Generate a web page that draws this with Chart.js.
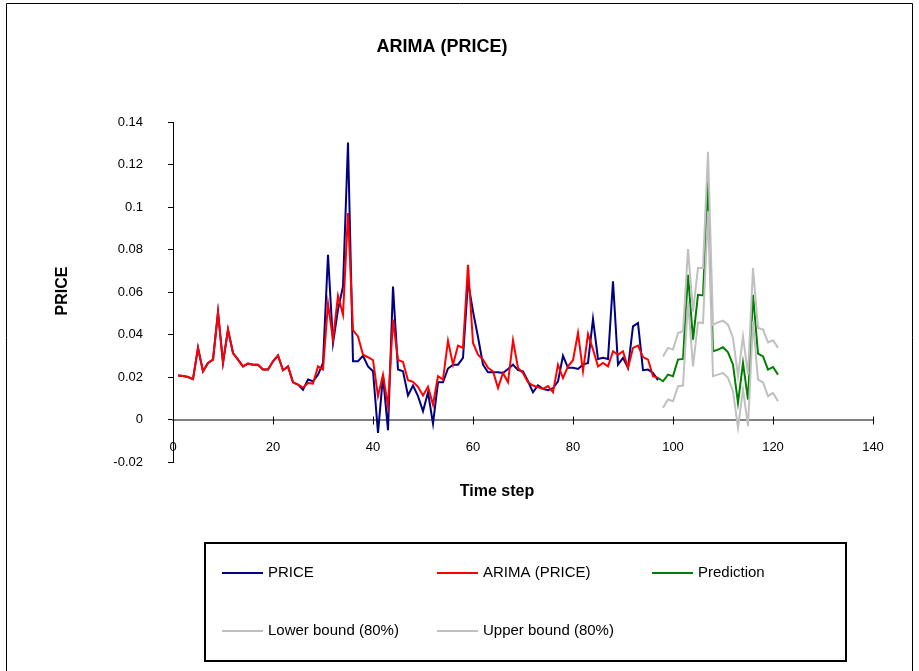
<!DOCTYPE html>
<html lang="en">
<head>
<meta charset="utf-8">
<title>ARIMA (PRICE)</title>
<script src="https://cdn.jsdelivr.net/npm/chart.js@4.4.1/dist/chart.umd.min.js"></script>
<style>
  html, body { margin: 0; padding: 0; background: #fff; }
  canvas { display: block; }
</style>
</head>
<body>
<canvas id="chart" width="919" height="671"></canvas>
<script>
  // observed series and fitted ARIMA values, time steps 1..97
  const priceValues = [
    0.0207, 0.0205, 0.0200, 0.0190, 0.0337, 0.0227, 0.0266, 0.0282, 0.0504, 0.0267,
    0.0423, 0.0313, 0.0282, 0.0250, 0.0263, 0.0258, 0.0258, 0.0235, 0.0235, 0.0274,
    0.0301, 0.0232, 0.0250, 0.0175, 0.0164, 0.0140, 0.0188, 0.0180, 0.0211, 0.0266,
    0.0775, 0.0360, 0.0517, 0.0626, 0.1303, 0.0274, 0.0274, 0.0300, 0.0250, 0.0227,
    -0.0063, 0.0204, -0.0050, 0.0626, 0.0235, 0.0227, 0.0113, 0.0160, 0.0110, 0.0039,
    0.0128, -0.0019, 0.0175, 0.0175, 0.0240, 0.0258, 0.0258, 0.0290, 0.0650, 0.0509,
    0.0388, 0.0258, 0.0222, 0.0222, 0.0222, 0.0219, 0.0238, 0.0258, 0.0232, 0.0227,
    0.0180, 0.0128, 0.0161, 0.0144, 0.0138, 0.0147, 0.0180, 0.0300, 0.0243, 0.0243,
    0.0238, 0.0258, 0.0266, 0.0473, 0.0285, 0.0290, 0.0285, 0.0650, 0.0258, 0.0290,
    0.0243, 0.0438, 0.0454, 0.0232, 0.0235, 0.0219, 0.0185
  ];
  const arimaValues = [
    0.0207, 0.0205, 0.0200, 0.0190, 0.0337, 0.0227, 0.0266, 0.0282, 0.0504, 0.0267,
    0.0423, 0.0313, 0.0282, 0.0250, 0.0263, 0.0258, 0.0258, 0.0235, 0.0235, 0.0274,
    0.0301, 0.0232, 0.0250, 0.0175, 0.0164, 0.0150, 0.0172, 0.0169, 0.0250, 0.0235,
    0.0545, 0.0376, 0.0583, 0.0493, 0.0971, 0.0420, 0.0391, 0.0305, 0.0293, 0.0279,
    0.0110, 0.0211, 0.0063, 0.0470, 0.0280, 0.0271, 0.0185, 0.0177, 0.0154, 0.0113,
    0.0154, 0.0070, 0.0204, 0.0188, 0.0371, 0.0258, 0.0348, 0.0337, 0.0728, 0.0360,
    0.0305, 0.0282, 0.0243, 0.0227, 0.0149, 0.0219, 0.0175, 0.0373, 0.0243, 0.0219,
    0.0175, 0.0160, 0.0152, 0.0144, 0.0157, 0.0128, 0.0258, 0.0195, 0.0250, 0.0279,
    0.0407, 0.0227, 0.0402, 0.0329, 0.0250, 0.0266, 0.0250, 0.0321, 0.0305, 0.0321,
    0.0243, 0.0337, 0.0348, 0.0294, 0.0282, 0.0204, 0.0196
  ];

  // forecast
  const predictionSteps = [97, 98, 99, 100, 101, 102, 103, 104, 105, 106, 107, 108, 109,
    110, 111, 112, 113, 114, 115, 116, 117, 118, 119, 120, 121];
  const predictionValues = [0.0196, 0.0180, 0.0211, 0.0204, 0.0282, 0.0285, 0.0681, 0.0376,
    0.0587, 0.0584, 0.1120, 0.0321, 0.0329, 0.0340, 0.0316, 0.0258, 0.0078, 0.0266,
    0.0094, 0.0587, 0.0310, 0.0297, 0.0235, 0.0247, 0.0211];
  const boundSteps = [98, 99, 100, 101, 102, 103, 104, 105, 106, 107, 108, 109,
    110, 111, 112, 113, 114, 115, 116, 117, 118, 119, 120, 121];
  const lowerValues = [0.0055, 0.0094, 0.0086, 0.0157, 0.0160, 0.0556, 0.0250, 0.0457,
    0.0454, 0.0980, 0.0204, 0.0211, 0.0219, 0.0196, 0.0133, -0.0039, 0.0141, -0.0031,
    0.0462, 0.0188, 0.0175, 0.0110, 0.0125, 0.0086];
  const upperValues = [0.0297, 0.0337, 0.0329, 0.0407, 0.0415, 0.0802, 0.0509, 0.0713,
    0.0713, 0.1260, 0.0446, 0.0457, 0.0465, 0.0446, 0.0384, 0.0204, 0.0391, 0.0211,
    0.0713, 0.0431, 0.0423, 0.0363, 0.0373, 0.0337];

  const xTickValues = [0, 20, 40, 60, 80, 100, 120, 140];
  const yTickValues = [-0.02, 0, 0.02, 0.04, 0.06, 0.08, 0.1, 0.12, 0.14];

  const chartTitle = 'ARIMA (PRICE)';
  const xTitle = 'Time step';
  const yTitle = 'PRICE';

  const FONT = "'Liberation Sans', Arial, sans-serif";
  Chart.defaults.font.family = FONT;
  Chart.defaults.color = '#000';

  const fittedPoints = vals => vals.map((v, i) => ({ x: i + 1, y: v }));
  const pairPoints = (xs, ys) => xs.map((t, i) => ({ x: t, y: ys[i] }));

  const decorations = {
    id: 'decorations',
    beforeDraw(chart) {
      const ctx = chart.ctx;
      ctx.save();
      ctx.fillStyle = '#fff';
      ctx.fillRect(0, 0, chart.width, chart.height);
      ctx.restore();
    },
    afterDraw(chart) {
      const { ctx, scales: { x, y } } = chart;
      ctx.save();

      // outer frame (bottom edge runs off the page)
      ctx.strokeStyle = '#000';
      ctx.lineWidth = 1;
      ctx.beginPath();
      ctx.moveTo(6.5, chart.height);
      ctx.lineTo(6.5, 3.5);
      ctx.lineTo(912.5, 3.5);
      ctx.lineTo(912.5, chart.height);
      ctx.stroke();

      // x tick marks crossing the zero line
      const y0 = Math.round(y.getPixelForValue(0)) + 0.5;
      ctx.beginPath();
      xTickValues.slice(1).forEach(v => {
        const px = Math.round(x.getPixelForValue(v)) + 0.5;
        ctx.moveTo(px, y0 - 4);
        ctx.lineTo(px, y0 + 4);
      });
      ctx.stroke();

      // titles
      ctx.fillStyle = '#000';
      ctx.textAlign = 'center';
      ctx.textBaseline = 'middle';
      ctx.font = 'bold 18px ' + FONT;
      ctx.fillText(chartTitle, 442, 47);
      ctx.font = 'bold 16px ' + FONT;
      ctx.fillText(xTitle, 497, 492);
      ctx.save();
      ctx.translate(63, 291);
      ctx.rotate(-Math.PI / 2);
      ctx.fillText(yTitle, 0, 0);
      ctx.restore();

      // legend box
      ctx.lineWidth = 2;
      ctx.strokeRect(205, 543, 641, 118);
      const slots = [[222, 573], [437, 573], [652, 573], [222, 631], [437, 631]];
      ctx.font = '15px ' + FONT;
      ctx.textAlign = 'left';
      chart.data.datasets.forEach((ds, i) => {
        const [lx, ly] = slots[i];
        ctx.strokeStyle = ds.borderColor;
        ctx.lineWidth = 2;
        ctx.beginPath();
        ctx.moveTo(lx, ly);
        ctx.lineTo(lx + 41, ly);
        ctx.stroke();
        ctx.fillText(ds.label, lx + 46, ly);
      });
      ctx.restore();
    }
  };

  const lineStyle = color => ({
    borderColor: color,
    backgroundColor: color,
    borderWidth: 2,
    pointRadius: 0,
    tension: 0,
    fill: false
  });

  new Chart(document.getElementById('chart'), {
    type: 'line',
    data: {
      datasets: [
        { label: 'PRICE', data: fittedPoints(priceValues), order: 5, ...lineStyle('#000080') },
        { label: 'ARIMA (PRICE)', data: fittedPoints(arimaValues), order: 1, ...lineStyle('#ff0000') },
        { label: 'Prediction', data: pairPoints(predictionSteps, predictionValues), order: 4, ...lineStyle('#008000') },
        { label: 'Lower bound (80%)', data: pairPoints(boundSteps, lowerValues), order: 3, ...lineStyle('#c0c0c0') },
        { label: 'Upper bound (80%)', data: pairPoints(boundSteps, upperValues), order: 2, ...lineStyle('#c0c0c0') }
      ]
    },
    options: {
      responsive: false,
      animation: false,
      layout: { padding: { left: 0, top: 122, right: 46, bottom: 209 } },
      plugins: {
        legend: { display: false },
        title: { display: false },
        tooltip: { enabled: false }
      },
      scales: {
        x: {
          type: 'linear',
          position: { y: 0 },
          min: 0,
          max: 140,
          afterBuildTicks: s => { s.ticks = xTickValues.map(v => ({ value: v })); },
          grid: { display: false },
          border: { display: true, color: '#808080', width: 2 },
          ticks: { padding: 12, font: { size: 13 }, maxRotation: 0 }
        },
        y: {
          type: 'linear',
          min: -0.02,
          max: 0.14,
          afterFit: s => { s.width = 173; },
          afterBuildTicks: s => { s.ticks = yTickValues.map(v => ({ value: v })); },
          grid: { display: true, drawOnChartArea: false, drawTicks: true, tickLength: 5, color: '#000' },
          border: { display: true, color: '#000', width: 1 },
          ticks: {
            padding: 25,
            font: { size: 13 },
            callback: v => String(Number(v.toFixed(2)))
          }
        }
      }
    },
    plugins: [decorations]
  });
</script>
</body>
</html>
